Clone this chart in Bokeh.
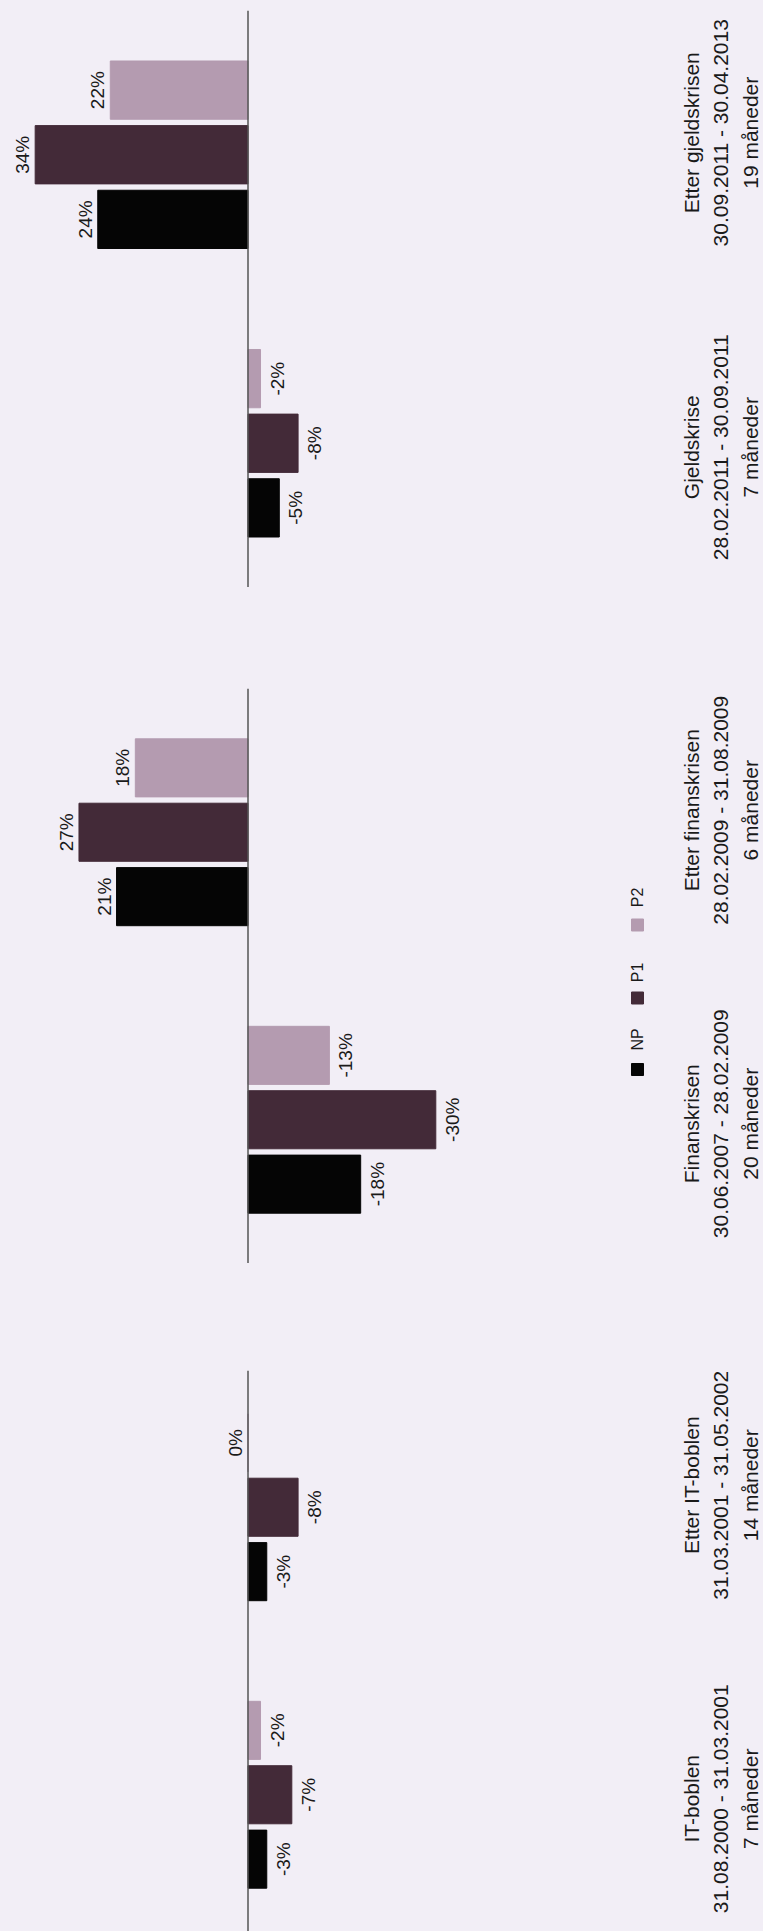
import math
from bokeh.plotting import figure
from bokeh.models import Range1d, FactorRange, ColumnDataSource, Span
from bokeh.transform import dodge
from bokeh.layouts import column
from bokeh.embed import file_html
from bokeh.resources import INLINE
from bokeh.core.properties import value

# ---------------- data ----------------
categories = ["IT-boblen", "Etter IT-boblen", "Finanskrisen",
              "Etter finanskrisen", "Gjeldskrise", "Etter gjeldskrisen"]
periods = ["31.08.2000 - 31.03.2001", "31.03.2001 - 31.05.2002",
           "30.06.2007 - 28.02.2009", "28.02.2009 - 31.08.2009",
           "28.02.2011 - 30.09.2011", "30.09.2011 - 30.04.2013"]
durations = ["7 måneder", "14 måneder", "20 måneder",
             "6 måneder", "7 måneder", "19 måneder"]
series_names = ["NP", "P1", "P2"]
NP = [-3, -3, -18, 21, -5, 24]
P1 = [-7, -8, -30, 27, -8, 34]
P2 = [-2, 0, -13, 18, -2, 22]

# ---------------- style / layout ----------------
COLORS = ["#050505", "#432a38", "#b49bb0"]
BG = "#f2eef6"
TEXT = "#1a1a1a"
FONT = value("Liberation Sans")
FIG_W = 763
AXIS_PX = 247.5          # zero line, px from frame left
PX_PER_PCT = 6.26
X_START = AXIS_PX / PX_PER_PCT
X_END = -(FIG_W - AXIS_PX) / PX_PER_PCT
BAR_H = 0.202
OFFSETS = [-0.224, 0.0, 0.224]
BAND_PX = 287.5

def px_to_x(px_from_frame_left):
    return (AXIS_PX - px_from_frame_left) / PX_PER_PCT

series_vals = [NP, P1, P2]

# panels top to bottom: (index pair, frame height, top border, padding)
panels = [
    ((4, 5), 577, 10, 0.0),
    ((2, 3), 575, 101, 0.0),
    ((0, 1), 561, 107, -7 / BAND_PX),
]

figs = []
for (i0, i1), frame_h, top_b, pad in panels:
    idx = [i0, i1]
    cats = [categories[i] for i in idx]
    yr = FactorRange(factors=cats, range_padding=pad, range_padding_units="absolute")
    p = figure(width=FIG_W, height=frame_h + top_b,
               x_range=Range1d(X_START, X_END), y_range=yr,
               x_axis_location=None, y_axis_location=None,
               output_backend="svg", toolbar_location=None,
               min_border_left=0, min_border_right=0,
               min_border_top=top_b, min_border_bottom=0,
               background_fill_color=BG, border_fill_color=BG,
               outline_line_color=None)
    p.grid.visible = False

    for vals, off, col in zip(series_vals, OFFSETS, COLORS):
        v = [vals[i] for i in idx]
        src = ColumnDataSource(dict(cat=cats, val=v))
        p.hbar(y=dodge("cat", off, range=p.y_range), left=0, right="val",
               height=BAR_H, color=col, source=src)
        pos = [(c, x) for c, x in zip(cats, v) if x >= 0]
        neg = [(c, x) for c, x in zip(cats, v) if x < 0]
        if pos:
            s = ColumnDataSource(dict(cat=[a for a, _ in pos], val=[b for _, b in pos],
                                      lbl=[f"{b}%" for _, b in pos]))
            p.text(x="val", y=dodge("cat", off, range=p.y_range), text="lbl",
                   angle=math.pi / 2, text_align="center", text_baseline="bottom",
                   x_offset=-2, text_font=FONT, text_font_size="19px",
                   text_color=TEXT, source=s)
        if neg:
            s = ColumnDataSource(dict(cat=[a for a, _ in neg], val=[b for _, b in neg],
                                      lbl=[f"{b}%" for _, b in neg]))
            p.text(x="val", y=dodge("cat", off, range=p.y_range), text="lbl",
                   angle=math.pi / 2, text_align="center", text_baseline="top",
                   x_offset=6, text_font=FONT, text_font_size="19px",
                   text_color=TEXT, source=s)

    p.add_layout(Span(location=0, dimension="height", line_color="#555555",
                      line_width=1.5))

    lab = ColumnDataSource(dict(
        cat=cats,
        txt=[f"{categories[i]}\n{periods[i]}\n{durations[i]}" for i in idx],
        yoff=[4, -22]))
    p.text(x=0, y="cat", text="txt", angle=math.pi / 2, x_offset=473,
           y_offset="yoff", text_align="center", text_baseline="middle",
           text_line_height=1.27, text_font=FONT, text_font_size="21px",
           text_color=TEXT, source=lab)

    if (i0, i1) == (2, 3):
        leg_x = px_to_x(637)
        sq_px = [93.5, 22.0, -51.0]
        tx_px = [63.5, -3.5, -78.5]
        sq = ColumnDataSource(dict(
            y=[[cats[0], 0.5 - d / BAND_PX] for d in sq_px], c=COLORS))
        p.scatter(x=leg_x, y="y", marker="square", size=12, fill_color="c",
                  line_color="c", source=sq)
        tx = ColumnDataSource(dict(
            y=[[cats[0], 0.5 - d / BAND_PX] for d in tx_px], t=series_names))
        p.text(x=leg_x, y="y", text="t", angle=math.pi / 2, text_align="center",
               text_baseline="middle", text_font=FONT, text_font_size="16px",
               text_color=TEXT, source=tx)
    figs.append(p)

layout = column(*figs, spacing=0)
tmpl = ("{% block preamble %}<style>html, body { background: " + BG +
        "; margin: 0; padding: 0; overflow: hidden; }</style>{% endblock %}")
open("out.html", "w").write(file_html(layout, INLINE, template=tmpl))
